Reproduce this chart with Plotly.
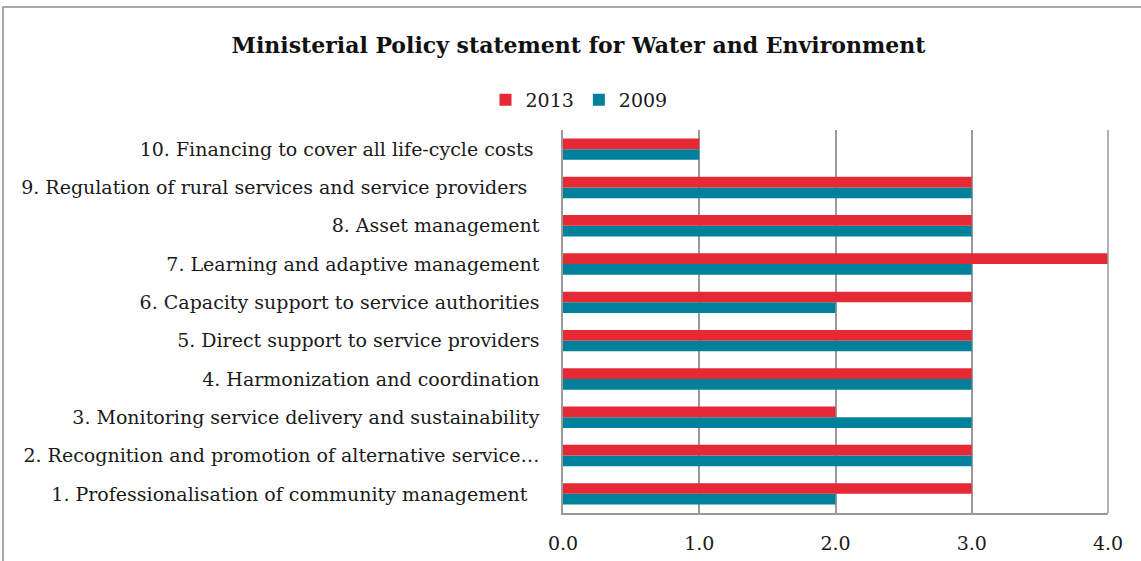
import plotly.graph_objects as go

# Policy building blocks, bottom to top on the category axis
categories = [
    "1. Professionalisation of community management\u00a0\u00a0",
    "2. Recognition and promotion of alternative service…",
    "3. Monitoring service delivery and sustainability",
    "4. Harmonization and coordination",
    "5. Direct support to service providers",
    "6. Capacity support to service authorities",
    "7. Learning and adaptive management",
    "8. Asset management",
    "9. Regulation of rural services and service providers\u00a0\u00a0",
    "10. Financing to cover all life-cycle costs\u00a0",
]
scores_2013 = [3, 3, 2, 3, 3, 3, 4, 3, 3, 1]
scores_2009 = [2, 3, 3, 3, 3, 2, 3, 3, 3, 1]
x_ticks = [0, 1, 2, 3, 4]
x_tick_text = ["0.0", "1.0", "2.0", "3.0", "4.0"]

RED = "#E52935"
TEAL = "#00819B"
GRID = "#9A9A9A"
FONT = "DejaVu Serif"

fig = go.Figure()
fig.add_trace(go.Bar(y=categories, x=scores_2009, name="2009", orientation="h",
                     marker=dict(color=TEAL, line=dict(width=0)), legendrank=2))
fig.add_trace(go.Bar(y=categories, x=scores_2013, name="2013", orientation="h",
                     marker=dict(color=RED, line=dict(width=0)), legendrank=1))

L, R, T, B = 563, 33, 130, 48
W, H = 1141, 561
pw, ph = W - L - R, H - T - B

fig.update_layout(
    autosize=True,
    margin=dict(l=L, r=R, t=T, b=B),
    paper_bgcolor="white", plot_bgcolor="white",
    barmode="group", bargap=0.44, bargroupgap=0,
    font=dict(family=FONT, size=19, color="#1a1a1a"),
    title=dict(text="<b>Ministerial Policy statement for Water and Environment</b>",
               x=0.507, xanchor="center", y=1 - 45 / H, yanchor="middle",
               font=dict(family=FONT, size=22, color="#111")),
    legend=dict(orientation="h", x=(579 - L) / pw, xanchor="center",
                y=1 + (T - 100) / ph, yanchor="middle",
                font=dict(family=FONT, size=19),
                itemwidth=30, tracegroupgap=0),
    showlegend=True,
    xaxis=dict(range=[0, 4], tickvals=x_ticks, ticktext=x_tick_text,
               showgrid=True, gridcolor=GRID, gridwidth=1.5,
               showline=True, linecolor=GRID, linewidth=1.5,
               zeroline=False, ticks="", ticklabelstandoff=12,
               automargin=False,
               tickfont=dict(family=FONT, size=19)),
    yaxis=dict(showgrid=False, showline=True, linecolor=GRID, linewidth=1.5,
               ticks="", ticklabelstandoff=18, automargin=False,
               tickfont=dict(family=FONT, size=19)),
)

# right edge of the plot area
fig.add_shape(type="line", xref="paper", yref="paper", x0=1, x1=1, y0=0, y1=1,
              line=dict(color=GRID, width=1.5))
# outer chart frame (right and bottom edges run past the page)
fig.add_shape(type="rect", xref="paper", yref="paper",
              x0=(3 - L) / pw, x1=(W + 20 - L) / pw,
              y0=-(B + 30) / ph, y1=1 + (T - 7) / ph,
              line=dict(color="#8C8C8C", width=1.5), layer="below")

fig.write_html("out.html", default_width="100%", default_height="100%")
